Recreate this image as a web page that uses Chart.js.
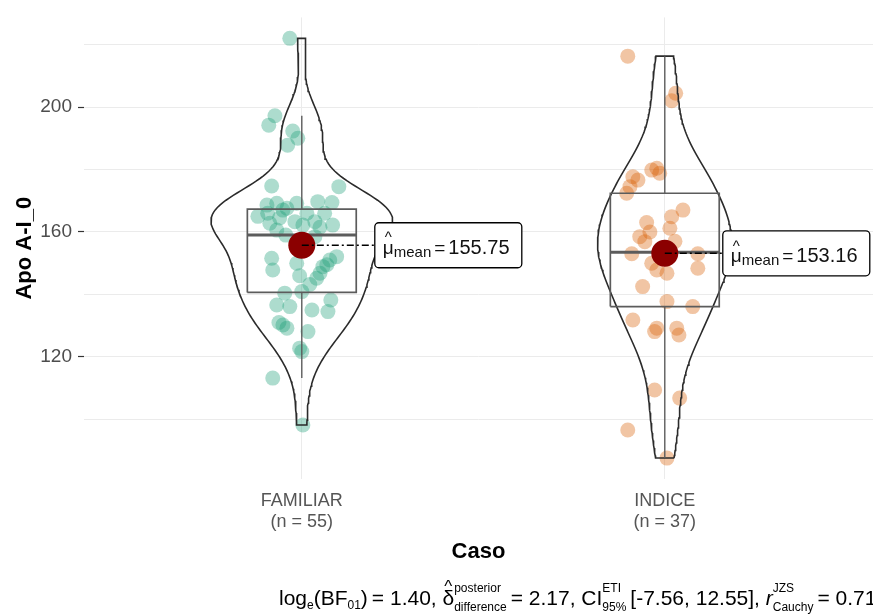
<!DOCTYPE html>
<html>
<head>
<meta charset="utf-8">
<script src="https://cdn.jsdelivr.net/npm/chart.js@4.4.1/dist/chart.umd.min.js"></script>
<style>
  html, body { margin: 0; padding: 0; background: #ffffff; overflow: hidden; }
  #wrap { width: 873px; height: 614px; position: relative; }
</style>
</head>
<body>
<div id="wrap"><canvas id="chart" width="873" height="614"></canvas></div>
<script>
// ---- data -------------------------------------------------------------
const groups = ['FAMILIAR', 'INDICE'];
const groupSizes = [55, 37];

const familiarValues = [
  222.0, 197.2, 194.2, 192.3, 190.0, 187.8, 174.7, 174.5,
  168.6, 169.2, 169.2, 169.7, 169.4, 166.0, 167.0, 166.0, 166.0, 167.6,
  162.8, 163.3, 163.3, 162.2, 162.2, 164.5, 161.5, 160.6,
  151.6, 147.8, 150.0, 151.0, 148.9, 146.8, 152.1, 149.5, 145.2, 143.2, 146.0,
  140.4, 140.9, 136.6, 136.1, 135.0, 134.5, 138.2,
  130.2, 129.2, 128.1, 131.0, 122.8, 121.7, 113.2, 98.2,
  159.0, 158.5, 165.0
];
// horizontal jitter of each point (in category units)
const familiarJitter = [
  -0.033, -0.074, -0.091, -0.025, -0.011, -0.039, -0.083, 0.102,
  -0.096, -0.069, -0.014, 0.044, 0.083, -0.094, -0.052, 0.014, 0.063, -0.041,
  -0.088, -0.019, 0.036, 0.085, 0.003, -0.061, 0.050, -0.069,
  -0.083, -0.080, -0.014, 0.077, 0.058, 0.050, 0.096, 0.069, 0.041, 0.022, -0.006,
  -0.047, 0.000, -0.069, -0.033, 0.028, 0.072, 0.080,
  -0.052, -0.041, 0.017, -0.063, -0.006, 0.000, -0.080, 0.003,
  -0.044, 0.036, -0.121
];

const indiceValues = [
  216.3, 204.4, 202.0, 180.4, 179.8, 178.8, 177.7, 176.6, 174.5, 172.4,
  167.0, 164.9, 163.0, 161.2, 156.9, 153.0, 153.0, 150.0, 148.4, 147.8,
  146.8, 142.5, 137.7, 136.1, 153.5, 131.8, 129.2, 128.1, 129.2, 127.0,
  109.4, 106.8, 96.6, 87.6, 157.0, 160.0, 158.5
];
const indiceJitter = [
  -0.102, 0.030, 0.019, -0.022, -0.036, -0.014, -0.088, -0.074, -0.096, -0.105,
  0.050, 0.019, -0.050, 0.014, -0.055, -0.091, 0.091, -0.036, 0.091, -0.022,
  0.006, -0.061, 0.006, 0.077, -0.014, -0.088, -0.022, -0.028, 0.033, 0.039,
  -0.028, 0.041, -0.102, 0.006, 0.028, -0.041, -0.069
];

const groupMeans = [155.75, 153.16];
const majorTicks = [120, 160, 200];
const yLimits = [80.9, 228.7];

// ---- summary statistics ----------------------------------------------
function quantile(sorted, p) {
  const h = (sorted.length - 1) * p;
  const lo = Math.floor(h);
  const hi = Math.min(lo + 1, sorted.length - 1);
  return sorted[lo] + (h - lo) * (sorted[hi] - sorted[lo]);
}
function boxStats(values) {
  const s = [...values].sort((a, b) => a - b);
  const q1 = quantile(s, 0.25), med = quantile(s, 0.5), q3 = quantile(s, 0.75);
  const iqr = q3 - q1;
  const lo = s.find(v => v >= q1 - 1.5 * iqr);
  const hi = [...s].reverse().find(v => v <= q3 + 1.5 * iqr);
  return { q1, med, q3, lo, hi, min: s[0], max: s[s.length - 1] };
}
function bandwidth(values) {
  const n = values.length;
  const mean = values.reduce((a, b) => a + b, 0) / n;
  const sd = Math.sqrt(values.reduce((a, v) => a + (v - mean) ** 2, 0) / (n - 1));
  const s = [...values].sort((a, b) => a - b);
  const iqr = quantile(s, 0.75) - quantile(s, 0.25);
  return 0.9 * Math.min(sd, iqr / 1.34) * Math.pow(n, -0.2);
}
function densityAt(values, bw, y) {
  let sum = 0;
  for (const v of values) sum += Math.exp(-0.5 * ((y - v) / bw) ** 2);
  return sum / (values.length * bw * Math.sqrt(2 * Math.PI));
}

const allValues = [familiarValues, indiceValues];
const allJitter = [familiarJitter, indiceJitter];
const stats = allValues.map(boxStats);

// violin outlines: trimmed kernel density, areas scaled to a common maximum
const STEPS = 160;
const profiles = allValues.map((vals, g) => {
  const bw = bandwidth(vals);
  const st = stats[g];
  const ys = [];
  for (let i = 0; i <= STEPS; i++) ys.push(st.min + (st.max - st.min) * i / STEPS);
  return ys.map(y => ({ y, d: densityAt(vals, bw, y) }));
});
const maxDensity = Math.max(...profiles.flat().map(p => p.d));
const VIOLIN_HALF = 0.25, BOX_HALF = 0.15;

function violinPath(g) {
  const c = g + 1;
  const prof = profiles[g];
  const right = prof.map(p => ({ x: c + VIOLIN_HALF * p.d / maxDensity, y: p.y }));
  const left = [...prof].reverse().map(p => ({ x: c - VIOLIN_HALF * p.d / maxDensity, y: p.y }));
  const path = right.concat(left);
  path.push(path[0]);
  return path;
}

// ---- datasets ---------------------------------------------------------
const pointColors = ['rgba(27,158,119,0.36)', 'rgba(217,95,2,0.36)'];
const boxColor = '#5c5c5c';
const datasets = [];

groups.forEach((name, g) => {
  const c = g + 1;
  const st = stats[g];
  datasets.push({
    type: 'scatter', label: name + ' points', order: 6,
    data: allValues[g].map((v, i) => ({ x: c + allJitter[g][i], y: v })),
    backgroundColor: pointColors[g], borderWidth: 0, pointRadius: 7.5
  });
  datasets.push({
    type: 'line', label: name + ' violin', order: 5,
    data: violinPath(g), borderColor: '#2b2b2b', borderWidth: 1.6,
    pointRadius: 0, fill: false, tension: 0
  });
  datasets.push({
    type: 'line', label: name + ' upper whisker', order: 4,
    data: [{ x: c, y: st.q3 }, { x: c, y: st.hi }],
    borderColor: boxColor, borderWidth: 1.4, pointRadius: 0
  });
  datasets.push({
    type: 'line', label: name + ' lower whisker', order: 4,
    data: [{ x: c, y: st.q1 }, { x: c, y: st.lo }],
    borderColor: boxColor, borderWidth: 1.4, pointRadius: 0
  });
  datasets.push({
    type: 'line', label: name + ' box', order: 3,
    data: [
      { x: c - BOX_HALF, y: st.q1 }, { x: c + BOX_HALF, y: st.q1 },
      { x: c + BOX_HALF, y: st.q3 }, { x: c - BOX_HALF, y: st.q3 },
      { x: c - BOX_HALF, y: st.q1 }
    ],
    borderColor: boxColor, borderWidth: 1.7, pointRadius: 0, fill: false
  });
  datasets.push({
    type: 'line', label: name + ' median', order: 3,
    data: [{ x: c - BOX_HALF, y: st.med }, { x: c + BOX_HALF, y: st.med }],
    borderColor: boxColor, borderWidth: 3, pointRadius: 0
  });
});
datasets.push({
  type: 'scatter', label: 'mean', order: 1,
  data: groupMeans.map((m, g) => ({ x: g + 1, y: m })),
  backgroundColor: '#8B0000', borderWidth: 0, pointRadius: 13.5
});

// ---- rich text helpers -------------------------------------------------
const FONT = "'Liberation Sans', Arial, sans-serif";
function drawRich(ctx, x, y, parts) {
  ctx.save();
  ctx.textBaseline = 'alphabetic';
  ctx.textAlign = 'left';
  for (const p of parts) {
    if (p.gap) { x += p.gap; continue; }
    if (p.stack) {
      ctx.font = `${p.size}px ${FONT}`;
      const w = Math.max(ctx.measureText(p.sup).width, ctx.measureText(p.sub).width);
      ctx.fillText(p.sup, x, y - p.up);
      ctx.fillText(p.sub, x, y + p.down);
      x += w;
      continue;
    }
    ctx.font = `${p.italic ? 'italic ' : ''}${p.size}px ${FONT}`;
    const w = ctx.measureText(p.t).width;
    ctx.fillText(p.t, x, y + (p.dy || 0));
    if (p.hat) {
      ctx.font = `${Math.round(p.size * 0.8)}px ${FONT}`;
      ctx.fillText('^', x + w / 2 - ctx.measureText('^').width / 2, y - p.size * 0.62);
    }
    x += w;
  }
  ctx.restore();
  return x;
}

// mean labels with dash-dot leader lines
const meanLabelPlugin = {
  id: 'meanLabels',
  afterDatasetsDraw(chart, args, opts) {
    const { ctx, scales: { x, y } } = chart;
    groupMeans.forEach((m, g) => {
      const px = x.getPixelForValue(g + 1);
      const py = y.getPixelForValue(m);
      const bx = px + opts.offsets[g];
      const bw = opts.widths[g], bh = 45;
      ctx.save();
      ctx.strokeStyle = '#000';
      ctx.lineWidth = 1.4;
      ctx.setLineDash([7, 3, 2, 3]);
      ctx.beginPath();
      ctx.moveTo(px, py);
      ctx.lineTo(bx, py);
      ctx.stroke();
      ctx.setLineDash([]);
      ctx.fillStyle = '#fff';
      ctx.lineWidth = 1.3;
      ctx.beginPath();
      ctx.roundRect(bx, py - bh / 2, bw, bh, 4);
      ctx.fill();
      ctx.stroke();
      ctx.fillStyle = '#111';
      drawRich(ctx, bx + 8, py + 9, [
        { t: 'μ', size: 19, hat: true },
        { t: 'mean', size: 15, dy: 3 },
        { gap: 3 },
        { t: '=', size: 19 },
        { gap: 3 },
        { t: m.toFixed(2), size: 20 }
      ]);
      ctx.restore();
    });
  }
};

// Bayesian test caption under the axis title
const captionPlugin = {
  id: 'caption',
  afterDraw(chart) {
    const { ctx } = chart;
    ctx.save();
    ctx.fillStyle = '#000';
    const S = 21, s = 12;
    drawRich(ctx, 279, 605, [
      { t: 'log', size: S },
      { t: 'e', size: s, dy: 4 },
      { t: '(BF', size: S },
      { t: '01', size: s, dy: 4 },
      { t: ')', size: S }, { gap: 4 },
      { t: '= 1.40, ', size: S },
      { t: 'δ', size: S, hat: true },
      { stack: true, sup: 'posterior', sub: 'difference', size: s, up: 13, down: 6 },
      { gap: 4 },
      { t: '= 2.17, CI', size: S },
      { stack: true, sup: 'ETI', sub: '95%', size: s, up: 13, down: 6 },
      { gap: 4 },
      { t: '[-7.56, 12.55], ', size: S },
      { t: 'r', size: S, italic: true },
      { stack: true, sup: 'JZS', sub: 'Cauchy', size: s, up: 13, down: 6 },
      { gap: 4 },
      { t: '= 0.71', size: S }
    ]);
    ctx.restore();
  }
};

// ---- chart -------------------------------------------------------------
new Chart(document.getElementById('chart'), {
  data: { datasets },
  plugins: [meanLabelPlugin, captionPlugin],
  options: {
    responsive: false,
    animation: false,
    layout: { autoPadding: false, padding: { top: 17, left: 0, right: 0, bottom: 0 } },
    plugins: {
      legend: { display: false },
      tooltip: { enabled: false },
      meanLabels: { offsets: [73, 58], widths: [147, 147] }
    },
    scales: {
      x: {
        type: 'linear', min: 0.4, max: 2.5736,
        afterBuildTicks: axis => { axis.ticks = groups.map((_, i) => ({ value: i + 1 })); },
        afterFit: axis => { axis.height = 135; },
        ticks: {
          callback: v => [groups[v - 1], `(n = ${groupSizes[v - 1]})`],
          font: { family: FONT, size: 18, lineHeight: 1.15 },
          color: '#555555', padding: 12, maxRotation: 0, autoSkip: false
        },
        grid: { color: '#ebebeb', lineWidth: 1, drawTicks: false },
        border: { display: false },
        title: {
          display: true, text: 'Caso', color: '#000',
          font: { family: FONT, size: 22, weight: 'bold' },
          padding: { top: 0, bottom: 49 }
        }
      },
      y: {
        type: 'linear', min: yLimits[0], max: yLimits[1],
        afterBuildTicks: axis => {
          const t = [];
          for (let v = 100; v <= 220; v += 20) t.push({ value: v });
          axis.ticks = t;
        },
        afterFit: axis => { axis.width = 84; },
        ticks: {
          callback: v => majorTicks.includes(v) ? String(v) : '',
          font: { family: FONT, size: 19 },
          color: '#4d4d4d', padding: 6, autoSkip: false
        },
        grid: {
          color: '#ebebeb', lineWidth: 1, tickLength: 6, tickWidth: 1.2,
          tickColor: ctx => majorTicks.includes(ctx.tick && ctx.tick.value) ? '#333333' : 'rgba(0,0,0,0)'
        },
        border: { display: false },
        title: {
          display: true, text: 'Apo A-I_0', color: '#000',
          font: { family: FONT, size: 22, weight: 'bold' },
          padding: { top: 12, bottom: 0 }
        }
      }
    }
  }
});
</script>
</body>
</html>
